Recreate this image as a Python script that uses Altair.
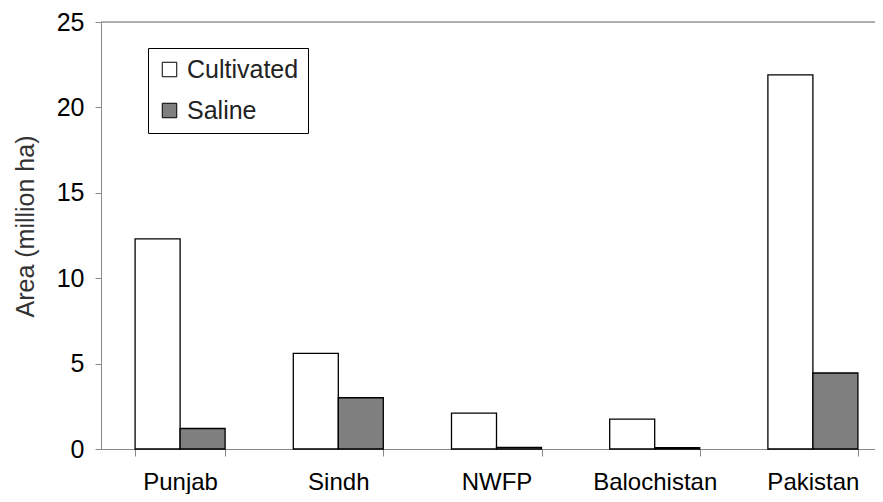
import altair as alt
import pandas as pd

categories = ["Punjab", "Sindh", "NWFP", "Balochistan", "Pakistan"]
series = ["Cultivated", "Saline"]
cultivated = [12.3, 5.6, 2.1, 1.75, 21.9]
saline = [1.2, 3.0, 0.1, 0.08, 4.45]
y_ticks = [0, 5, 10, 15, 20, 25]

rows = []
for c, v in zip(categories, cultivated):
    rows.append({"region": c, "series": "Cultivated", "value": v})
for c, v in zip(categories, saline):
    rows.append({"region": c, "series": "Saline", "value": v})
df = pd.DataFrame(rows)

FONT = "Liberation Sans"

bars = alt.Chart(df).mark_bar(stroke="black", strokeWidth=1.3).encode(
    x=alt.X(
        "region:N",
        sort=categories,
        scale=alt.Scale(range=[0, 791], paddingInner=0.431, paddingOuter=0.2155),
        axis=alt.Axis(
            title=None, labelAngle=0, tickBand="extent", tickSize=7,
            labelPadding=14, labelFontSize=24,
        ),
    ),
    xOffset=alt.XOffset("series:N", sort=series, scale=alt.Scale(paddingInner=0, paddingOuter=0)),
    y=alt.Y(
        "value:Q",
        scale=alt.Scale(domain=[0, 25], nice=False),
        axis=alt.Axis(
            values=y_ticks, grid=False, tickSize=6, labelPadding=11,
            labelFontSize=25, title="Area (million ha)", titleFontSize=25,
            titleFontWeight="normal", titleColor="#333", titlePadding=18,
            titleY=204,
        ),
    ),
    fill=alt.Fill(
        "series:N",
        sort=series,
        scale=alt.Scale(domain=series, range=["white", "#7f7f7f"]),
        legend=alt.Legend(
            title=None, orient="none", legendX=47, legendY=26,
            symbolType="square", symbolSize=210, symbolStrokeColor="black",
            symbolStrokeWidth=1, labelFontSize=25, labelFont=FONT, labelColor="#222",
            strokeColor="black", fillColor="white", padding=9, rowPadding=15,
            labelOffset=5, direction="vertical",
        ),
    ),
)

top = alt.Chart(pd.DataFrame({"v": [25]})).mark_rule(color="#999", strokeWidth=1.5).encode(
    y=alt.Y("v:Q"),
    x=alt.value(0),
    x2=alt.value(791),
)

chart = alt.layer(bars, top).properties(
    width=774,
    height=427,
    autosize=alt.AutoSizeParams(type="none"),
    padding={"left": 93, "top": 14, "right": 0, "bottom": 45},
).configure_view(stroke=None).configure_axis(
    labelFont=FONT, titleFont=FONT, labelColor="#222",
    domainColor="black", tickColor="black", domainWidth=1.5, tickWidth=1.5,
).configure(background="white")

chart.save("out.html", embed_options={"renderer": "svg", "actions": False})
